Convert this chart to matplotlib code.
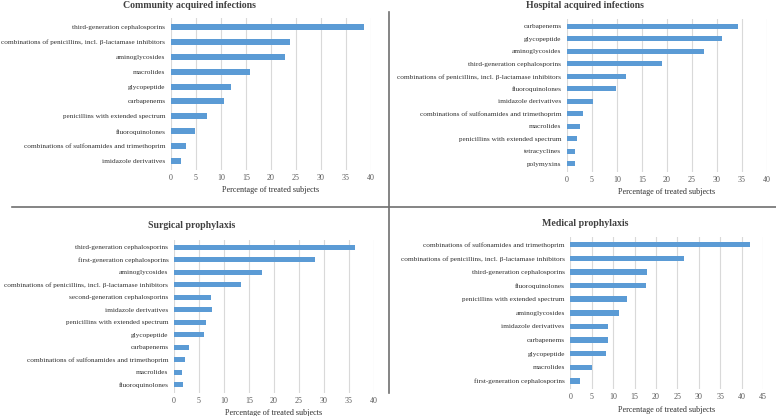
import matplotlib
matplotlib.use("Agg")
import matplotlib.pyplot as plt
from matplotlib.lines import Line2D

plt.rcParams['font.family'] = ['Liberation Serif', 'DejaVu Serif']

W, H = 776, 416
BAR = '#5B9BD5'
GRID = '#D9D9D9'
TXT = '#595959'

# --- data (percentage of treated subjects) ---
community_labels = ["third-generation cephalosporins",
                    "combinations of penicillins, incl. \u03b2-lactamase inhibitors",
                    "aminoglycosides", "macrolides", "glycopeptide", "carbapenems",
                    "penicillins with extended spectrum", "fluoroquinolones",
                    "combinations of sulfonamides and trimethoprim",
                    "imidazole derivatives"]
community_values = [38.6, 23.7, 22.8, 15.7, 11.9, 10.6, 7.1, 4.8, 2.9, 1.9]

hospital_labels = ["carbapenems", "glycopeptide", "aminoglycosides",
                   "third-generation cephalosporins",
                   "combinations of penicillins, incl. \u03b2-lactamase inhibitors",
                   "fluoroquinolones", "imidazole derivatives",
                   "combinations of sulfonamides and trimethoprim",
                   "macrolides", "penicillins with extended spectrum",
                   "tetracyclines", "polymyxins"]
hospital_values = [34.1, 30.9, 27.3, 18.9, 11.8, 9.7, 5.1, 3.1, 2.5, 1.9, 1.5, 1.5]

surgical_labels = ["third-generation cephalosporins", "first-generation cephalosporins",
                   "aminoglycosides",
                   "combinations of penicillins, incl. \u03b2-lactamase inhibitors",
                   "second-generation cephalosporins", "imidazole derivatives",
                   "penicillins with extended spectrum", "glycopeptide", "carbapenems",
                   "combinations of sulfonamides and trimethoprim",
                   "macrolides", "fluoroquinolones"]
surgical_values = [36.3, 28.1, 17.5, 13.4, 7.4, 7.5, 6.3, 5.9, 3.0, 2.2, 1.6, 1.7]

medical_labels = ["combinations of sulfonamides and trimethoprim",
                  "combinations of penicillins, incl. \u03b2-lactamase inhibitors",
                  "third-generation cephalosporins", "fluoroquinolones",
                  "penicillins with extended spectrum", "aminoglycosides",
                  "imidazole derivatives", "carbapenems", "glycopeptide",
                  "macrolides", "first-generation cephalosporins"]
medical_values = [42.0, 26.6, 17.8, 17.7, 13.2, 11.4, 8.9, 8.9, 8.3, 5.1, 2.2]


def panel(fig, px, title, labels, values, xmax, title_xy):
    # px = (left, top, right, bottom) in pixels
    l, t, r, b = px
    ax = fig.add_axes([l / W, 1 - b / H, (r - l) / W, (b - t) / H])
    n = len(values)
    ax.barh(range(n), values, height=0.4, color=BAR, zorder=3)
    ax.set_ylim(n - 1 + 0.6, -0.6)
    ax.set_xlim(0, xmax)
    ax.set_xticks(range(0, xmax + 1, 5))
    ax.set_yticks(range(n))
    ax.set_yticklabels(labels, fontsize=5.25, color='#303030')
    ax.tick_params(axis='x', labelsize=5.8, colors=TXT, length=0, pad=3)
    ax.tick_params(axis='y', length=0, pad=4)
    ax.grid(axis='x', color=GRID, linewidth=0.8, zorder=0)
    for s in ax.spines.values():
        s.set_visible(False)
    ax.set_xlabel('Percentage of treated subjects', fontsize=5.9, color='#303030', labelpad=3)
    fig.text(title_xy[0] / W, 1 - title_xy[1] / H, title, fontsize=7.1,
             fontweight='bold', color='#404040', ha='center', va='center')
    return ax


fig = plt.figure(figsize=(W / 100, H / 100), dpi=100)

panel(fig, (171, 18, 371, 170), 'Community acquired infections',
      community_labels, community_values, 40, (189, 5))
panel(fig, (567, 18.5, 767, 171.5), 'Hospital acquired infections',
      hospital_labels, hospital_values, 40, (585, 6))
panel(fig, (174, 239.5, 374, 392.5), 'Surgical prophylaxis',
      surgical_labels, surgical_values, 40, (192, 226))
panel(fig, (570.3, 236.5, 763, 389.2), 'Medical prophylaxis',
      medical_labels, medical_values, 45, (585, 223))

# separator cross
fig.add_artist(Line2D([12 / W, 1], [1 - 206.7 / H, 1 - 206.7 / H], color='#707070', lw=1.2))
fig.add_artist(Line2D([388.5 / W, 388.5 / W], [1 - 12 / H, 1 - 393 / H], color='#707070', lw=1.2))

fig.savefig('out.png', dpi=100, facecolor='white')
